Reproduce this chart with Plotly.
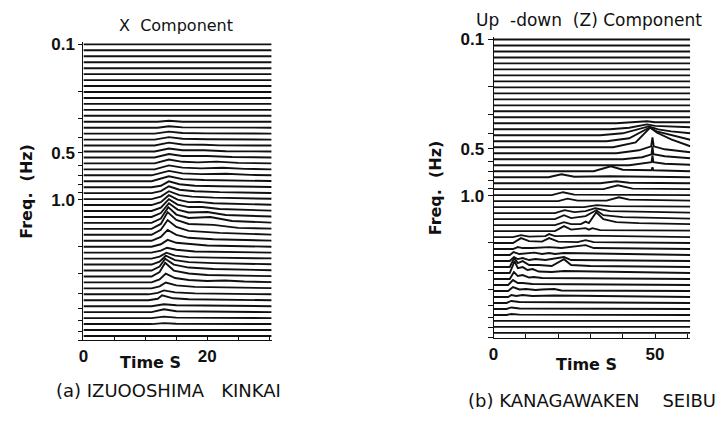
import math
import plotly.graph_objects as go

# ---------------- data ----------------
# 50 spectral bands per panel, log-spaced upward from 0.1 Hz (one trace per band)
N_BANDS = 50
BAND_STEP_DEC = 0.0383
band_freq = [0.1 * 10 ** (BAND_STEP_DEC * i) for i in range(N_BANDS)]

# amplitude units -> vertical offset in decades of the frequency axis
AMP_DEC_A = 1 / 158.0
AMP_DEC_B = 1 / 159.0

T_END_A = 30.4
T_END_B = 60.9

# (a) IZUOOSHIMA KINKAI, X component: (time s, amplitude) knots per band
A_KNOTS = [
    [(0, 0), (30.4, 0)],  # 0
    [(0, 0), (30.4, 0)],
    [(0, 0), (30.4, 0)],
    [(0, 0), (30.4, 0)],
    [(0, 0), (30.4, 0)],
    [(0, 0), (30.4, 0)],  # 5
    [(0, 0), (30.4, 0)],
    [(0, 0), (30.4, 0)],
    [(0, 0), (30.4, 0)],
    [(0, 0), (30.4, 0)],
    [(0, 0), (30.4, 0)],  # 10
    [(0, 0), (30.4, 0)],
    [(0, 0), (30.4, 0)],
    [(0, 0), (12, 0), (13.8, 1), (16, 0), (30.4, 0)],
    [(0, 0), (12, 0), (13.8, 1.5), (16, 0.3), (30.4, 0)],
    [(0, 0), (11.5, 0), (13.8, 2), (16, 0.6), (20, 0.3), (30.4, 0)],  # 15
    [(0, 0), (11.5, 0), (13.8, 2.5), (16, 0.8), (20, 0.4), (30.4, 0)],
    [(0, 0), (11.5, 0), (13.8, 3), (16, 1), (19.5, 0.8), (22, 0.2), (30.4, 0)],
    [(0, 0), (11.5, 0), (13.8, 3), (16, 1.2), (19.5, 1.2), (23, 0.3), (30.4, 0)],
    [(0, 0), (11.5, 0), (13.8, 3.5), (16, 1.5), (20, 1.5), (24, 0.5), (30.4, 0)],
    [(0, 0), (11.5, 0), (13.8, 4), (16, 1.6), (18.5, 1), (21.5, 1.8), (25, 0.5), (30.4, 0)],  # 20
    [(0, 0), (11.5, 0), (13.8, 4), (16, 1.8), (19, 1), (22.5, 1.6), (26, 0.5), (30.4, 0)],
    [(0, 0), (11, 0), (13.8, 4.5), (16, 2), (19, 1.2), (23, 1.5), (27, 0.4), (30.4, 0)],
    [(0, 0), (11, 0), (13.8, 5), (16, 2.2), (19.5, 1.2), (24, 1), (30.4, 0.2)],
    [(0, 0), (11, 0), (12.5, 1.5), (13.8, 6), (15.5, 3), (18, 1.5), (22, 1), (30.4, 0.2)],
    [(0, 0), (11, 0), (12.5, 2), (13.8, 7), (15.5, 3.5), (18, 2), (22, 1), (30.4, 0.2)],  # 25
    [(0, 0), (11, 0), (12.5, 2.5), (13.8, 8), (15.5, 4), (17.5, 2.5), (21, 1.5), (30.4, 0.3)],
    [(0, 0), (11, 0), (12.5, 3), (13.8, 10), (15.2, 5.5), (17, 3), (18.7, 3.2), (21, 1.8), (30.4, 0.3)],
    [(0, 0), (11, 0), (12.5, 3.5), (13.8, 12), (15.2, 6.5), (17, 4), (19.2, 4), (22, 2), (30.4, 0.4)],
    [(0, 0), (11, 0), (12.5, 4), (13.8, 14), (15.2, 7.5), (17, 4.5), (20, 5), (23, 2), (30.4, 0.4)],
    [(0, 0), (11, 0), (12.5, 4.5), (13.7, 16), (15, 8.5), (17, 5), (20.5, 6), (24, 2), (30.4, 0.3)],  # 30
    [(0, 0), (11, 0), (12.5, 5), (13.6, 17), (15, 9), (17, 5), (21, 4), (25, 1), (30.4, 0.2)],
    [(0, 0), (11, 0), (12.5, 5), (13.6, 15), (15, 8), (17, 4), (22, 2), (30.4, 0.2)],
    [(0, 0), (11, 0), (12.5, 4), (13.6, 11), (15, 6), (17, 3), (21, 1.5), (30.4, 0.1)],
    [(0, 0), (11, 0), (12.5, 2.5), (13.6, 7), (15, 4), (17.5, 2.5), (20, 1.2), (30.4, 0)],
    [(0, 0), (11, 0), (12.5, 2), (13.5, 5), (15, 3), (18, 1.2), (30.4, 0)],  # 35
    [(0, 0), (11, 0), (12.3, 2), (13.4, 6), (14.8, 3), (17, 1.5), (21, 1), (30.4, 0.2)],
    [(0, 0), (11, 0), (12.3, 3), (13.3, 9), (14.8, 4.5), (17, 2.5), (21, 1.5), (30.4, 0.3)],
    [(0, 0), (11, 0), (12.3, 4), (13.2, 12), (14.6, 6), (17, 3), (21, 1.5), (30.4, 0.3)],
    [(0, 0), (11, 0), (12.3, 4.5), (13.2, 14), (14.6, 6), (17, 3), (20, 1.5), (30.4, 0.3)],
    [(0, 0), (11, 0), (12.3, 3), (13.3, 9), (14.8, 4.5), (17, 2.5), (20, 1.5), (22.8, 2), (26, 1), (30.4, 0.3)],  # 40
    [(0, 0), (11, 0), (12.3, 2), (13.3, 6), (15, 3), (18, 1.5), (30.4, 0.2)],
    [(0, 0), (10.5, 0), (12, 1.5), (13, 4), (14.8, 2), (18, 1), (30.4, 0)],
    [(0, 0), (10.5, 0), (12, 1.5), (12.7, 5), (14.5, 2), (17, 1), (30.4, 0)],
    [(0, 0), (11, 0), (13, 2), (15, 1), (30.4, 0)],
    [(0, 0), (11, 0), (13, 3), (15, 1), (30.4, 0)],  # 45
    [(0, 0), (11, 0), (13, 1.5), (15, 0.5), (30.4, 0)],
    [(0, 0), (11, 0), (13, 1), (15, 0.3), (30.4, 0)],
    [(0, 0), (30.4, 0)],
    [(0, 0), (30.4, 0)],
]

# (b) KANAGAWAKEN SEIBU, Up-down (Z) component
B_KNOTS = [
    [(0, 0), (60.9, 0)],  # 0
    [(0, 0), (60.9, 0)],
    [(0, 0), (60.9, 0)],
    [(0, 0), (60.9, 0)],
    [(0, 0), (60.9, 0)],
    [(0, 0), (60.9, 0)],  # 5
    [(0, 0), (60.9, 0)],
    [(0, 0), (60.9, 0)],
    [(0, 0), (60.9, 0)],
    [(0, 0), (60.9, 0)],
    [(0, 0), (60.9, 0)],  # 10
    [(0, 0), (60.9, 0)],
    [(0, 0), (60.9, 0)],
    [(0, 0), (60.9, 0)],
    [(0, 0), (38, 0), (47.5, 2), (50, 1), (60.9, 1)],
    [(0, 0), (36, 0), (42, 1.5), (47.5, 5), (50, 3.5), (55, 2.5), (60.9, 2)],  # 15
    [(0, 0), (33, 0), (40, 2), (48, 9), (51, 6), (55, 4), (60.9, 2)],
    [(0, 0), (35, 0), (42, 3), (48.3, 14), (50.5, 10), (55, 6), (60.9, 1.5)],
    [(0, 0), (37, 0), (44, 5), (48.5, 20), (50.5, 15), (55, 8), (60.9, 1)],
    [(0, 0), (38, 0), (45, 3), (48.8, 7), (49.2, 16), (49.6, 7), (53, 4), (60.9, 1)],
    [(0, 0), (40, 0), (46, 2), (48.9, 5), (49.2, 13), (49.5, 5), (53, 3), (60.9, 1)],  # 20
    [(0, 0), (42, 0), (48.9, 3), (49.2, 10), (49.5, 3), (53, 1.5), (60.9, 0.5)],
    [(0, 0), (31, 0), (36.3, 5), (40, 1.5), (48.9, 1), (49.2, 4), (49.5, 1), (60.9, 0)],
    [(0, 0), (17, 0), (21, 3), (25, 0.5), (36, 1), (60.9, 0)],
    [(0, 0), (33, 0), (38, 2), (42, 0.5), (60.9, 0)],
    [(0, 0), (34, 0), (38.5, 4), (43, 0.5), (60.9, 0)],  # 25
    [(0, 0), (18, 0), (21.5, 3), (25, 0.5), (60.9, 0)],
    [(0, 0), (20, 0), (22.9, 2.5), (26, 0.5), (35, 0.5), (38.8, 4), (42, 1.5), (60.9, 0.5)],
    [(0, 0), (28, 0), (32, 2), (36, 1), (60.9, 0.5)],
    [(0, 0), (19, 0), (22, 3), (25, 1), (28.5, 2), (31.5, 5), (36, 2), (60.9, 0.5)],
    [(0, 0), (19, 0), (21.8, 4), (24, 1), (28.5, 3), (31.8, 9), (34, 4), (40, 2), (60.9, 0.5)],  # 30
    [(0, 0), (19, 0), (21.8, 3), (24, 1), (27, 1), (28.5, 3.5), (29.5, 2), (31.8, 13), (34, 6), (38, 3), (45, 2), (60.9, 1)],
    [(0, 0), (19, 0), (21.8, 5), (24, 1.5), (28.5, 3), (29.5, 1.5), (30.6, 3), (33, 1), (60.9, 0.5)],
    [(0, 0), (6, 0), (8.5, 2), (11, 0.5), (16, 1), (17.2, 3), (19, 1), (28.5, 1.5), (60.9, 0)],
    [(0, 0), (6, 0), (8.5, 5), (11, 2), (15, 1.5), (17.2, 5), (20, 1.5), (26, 1), (28.5, 3), (31, 1), (60.9, 0)],
    [(0, 0), (6, 0), (7.5, 2), (9, 1), (12, 1), (17.2, 2), (21, 1), (28.5, 4), (31, 1), (60.9, 0)],  # 35
    [(0, 0), (5, 0), (6.2, 3), (8, 1), (12.6, 2.5), (15, 1), (17.2, 2), (19, 1), (21.8, 2), (60.9, 0)],
    [(0, 0), (5, 0), (6.3, 4), (7.5, 2), (9, 3), (11, 1), (13, 2), (16, 1), (21.8, 4), (24, 1), (60.9, 0)],
    [(0, 0), (5, 0), (6.4, 9), (7.5, 4), (9, 6), (11, 2), (14, 2), (18, 1), (21.8, 8), (24, 2), (30, 1), (60.9, 0)],
    [(0, 0), (5, 0), (6.5, 12), (7.5, 5), (9, 6), (10.5, 3), (12.1, 4), (14, 1.5), (18, 1), (21.8, 2), (60.9, 0)],
    [(0, 0), (5, 0), (6.3, 7), (7.5, 3), (9, 4), (11, 1.5), (12.5, 2), (15, 1), (60.9, 0)],  # 40
    [(0, 0), (4.5, 0), (6, 5), (7.5, 2), (9, 2), (12, 1), (60.9, 0)],
    [(0, 0), (4.5, 0), (6, 4), (8, 1.5), (10, 2), (13, 1), (15, 1.5), (18.8, 2), (21, 0.5), (60.9, 0)],
    [(0, 0), (4.5, 0), (5.5, 2), (7, 1), (9, 2), (12, 1), (18.8, 1.5), (60.9, 0)],
    [(0, 0), (4, 0), (5.5, 2), (8, 1), (60.9, 0)],
    [(0, 0), (4, 0), (5.5, 1.5), (8, 0.5), (60.9, 0)],  # 45
    [(0, 0), (4, 0), (5.5, 1), (8, 0.3), (60.9, 0)],
    [(0, 0), (60.9, 0)],
    [(0, 0), (60.9, 0)],
    [(0, 0), (60.9, 0)],
]

FREQ_TICKS = [0.1, 0.2, 0.3, 0.4, 0.5, 0.6, 0.7, 0.8, 0.9, 1, 2, 3, 4, 5, 6, 7, 8]
FREQ_TICKTEXT = ["0.1", "", "", "", "0.5", "", "", "", "", "1.0", "", "", "", "", "", "", ""]
TIME_TICKS_A = [0, 5, 10, 15, 20, 25, 30]
TIME_TICKTEXT_A = ["0", "", "", "", "20", "", ""]
TIME_TICKS_B = [0, 10, 20, 30, 40, 50, 60]
TIME_TICKTEXT_B = ["0", "", "", "", "", "50", ""]

# ---------------- figure ----------------
W, H = 724, 422
INK = "#111111"
NARROW = "Liberation Sans, Arial, sans-serif"
WIDE = "DejaVu Sans, Verdana, sans-serif"
NB = "\u00a0"

fig = go.Figure()

# the frequency axes are logarithmic: plot log10(frequency) on a linear scale
def add_panel(knots_list, amp_dec, xa, ya):
    for i, knots in enumerate(knots_list):
        t = [k[0] for k in knots]
        y = [math.log10(band_freq[i]) - k[1] * amp_dec for k in knots]
        fig.add_trace(go.Scatter(x=t, y=y, mode="lines", xaxis=xa, yaxis=ya,
                                 line=dict(color=INK, width=1.9),
                                 showlegend=False, hoverinfo="skip"))

add_panel(A_KNOTS, AMP_DEC_A, "x", "y")
add_panel(B_KNOTS, AMP_DEC_B, "x2", "y2")

def px(x):
    return x / W

def py(y):
    return 1 - y / H

log_ticks = [math.log10(v) for v in FREQ_TICKS]
tickfont = dict(family=NARROW, size=17, color=INK, weight="bold")
ytitle = dict(text="Freq." + NB * 2 + "(Hz)",
              font=dict(family=WIDE, size=16, color=INK, weight="bold"))
xcommon = dict(showgrid=False, zeroline=False, showline=True, linecolor=INK, linewidth=1.2,
               ticks="inside", ticklen=4, tickwidth=1.2, tickcolor=INK, tickfont=tickfont)
ycommon = dict(showgrid=False, zeroline=False, showline=True, linecolor=INK,
               linewidth=1.2, ticks="outside", tickwidth=1.2, tickcolor=INK,
               tickvals=log_ticks, ticktext=FREQ_TICKTEXT, tickfont=tickfont)

fig.update_layout(
    width=W, height=H, margin=dict(l=0, r=0, t=0, b=0, pad=0),
    paper_bgcolor="white", plot_bgcolor="white",
    xaxis=dict(domain=[px(79), px(268.5)], range=[0, T_END_A], anchor="y",
               tickvals=TIME_TICKS_A, ticktext=TIME_TICKTEXT_A, **xcommon),
    yaxis=dict(domain=[py(339), py(36)], range=[0.905, -1.0127], anchor="x",
               ticklen=4, title=dict(standoff=14, **ytitle), **ycommon),
    xaxis2=dict(domain=[px(492), px(690)], range=[0, T_END_B], anchor="y2",
                tickvals=TIME_TICKS_B, ticktext=TIME_TICKTEXT_B, **xcommon),
    yaxis2=dict(domain=[py(337), py(31)], range=[0.912, -1.0126], anchor="x2",
                ticklen=5, title=dict(standoff=14, **ytitle), **ycommon),
)

def note(text, x, y, size, bold=False, family=WIDE):
    fig.add_annotation(text=text, x=px(x), y=py(y), xref="paper", yref="paper",
                       showarrow=False, xanchor="center", yanchor="middle",
                       font=dict(family=family, size=size, color=INK,
                                 weight="bold" if bold else "normal"))

note("X" + NB * 2 + "Component", 172, 19, 16)
note("Up" + NB * 2 + "-down" + NB * 2 + "(Z)" + NB + "Component", 588, 13, 17)
note("Time" + NB + "S", 147, 362, 16, bold=True)
note("Time" + NB + "S", 586, 364, 16, bold=True)
note("(a)" + NB + "IZUOOSHIMA" + NB * 3 + "KINKAI", 165, 390, 18)
note("(b)" + NB + "KANAGAWAKEN" + NB * 4 + "SEIBU", 591, 400, 18)

fig.write_html("out.html")
